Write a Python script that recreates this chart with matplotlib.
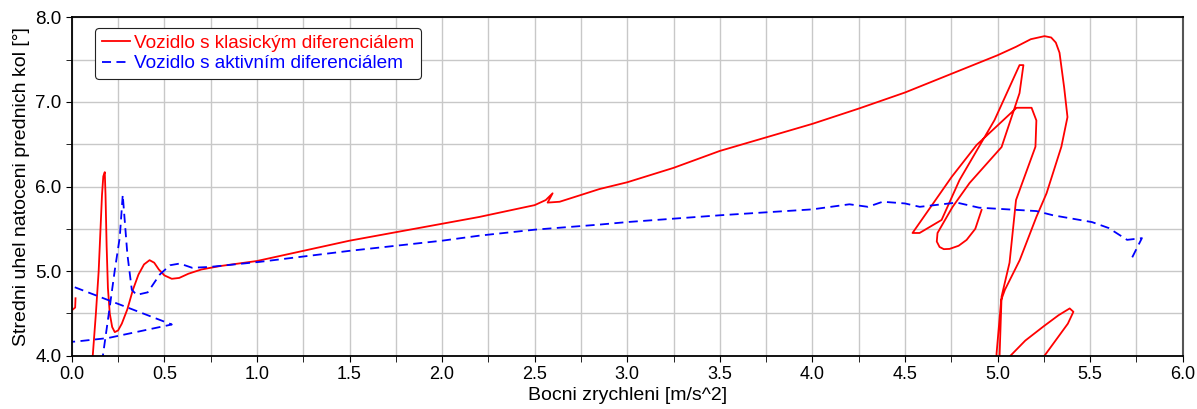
import matplotlib
matplotlib.use("Agg")
import matplotlib.pyplot as plt
from matplotlib.ticker import MultipleLocator

plt.rcParams['font.family'] = ['Liberation Sans', 'DejaVu Sans']

# vozidlo s klasickym diferencialem (red)
red_x = [0.02, 0.018, -0.05, -0.05, 0.105, 0.113, 0.13, 0.145, 0.155, 0.163, 0.17, 0.178, 0.182, 0.188,
         0.195, 0.205, 0.218, 0.232, 0.25, 0.27, 0.3, 0.33, 0.36, 0.39, 0.42, 0.445, 0.47, 0.5, 0.54,
         0.58, 0.63, 0.7, 0.8, 0.9, 1.0, 1.25, 1.5, 1.75, 2.0, 2.2, 2.35, 2.5, 2.56, 2.597, 2.57, 2.635,
         2.75, 2.85, 3.0, 3.25, 3.5, 3.75, 4.0, 4.25, 4.5, 4.75, 5.0, 5.1, 5.18,
         5.254, 5.29, 5.315, 5.335, 5.36, 5.378, 5.345, 5.265, 5.21, 5.12, 5.04, 5.02, 4.995, 4.99, 5.0,
         5.05, 5.065, 5.15, 5.25, 5.33, 5.39, 5.41, 5.38, 5.32, 5.25, 5.1, 5.0,
         5.011, 5.022, 5.065, 5.10, 5.205, 5.21, 5.184, 5.103, 4.887, 4.752, 4.541, 4.579, 4.698,
         4.795, 4.984, 5.119, 5.140, 5.119, 5.022, 4.849, 4.757, 4.676, 4.672, 4.687, 4.71, 4.741,
         4.79, 4.833, 4.88, 4.914]
red_y = [4.68, 4.57, 4.45, 3.5, 3.5, 4.0, 4.5, 5.0, 5.5, 5.9, 6.12, 6.17, 5.9, 5.3,
         4.8, 4.5, 4.34, 4.28, 4.30, 4.38, 4.55, 4.78, 4.96, 5.08, 5.13, 5.10, 5.02, 4.95, 4.91,
         4.92, 4.97, 5.02, 5.06, 5.09, 5.12, 5.24, 5.36, 5.46, 5.56, 5.64, 5.71, 5.78, 5.84, 5.92, 5.81, 5.82,
         5.90, 5.97, 6.05, 6.22, 6.42, 6.58, 6.74, 6.92, 7.11, 7.33, 7.55, 7.65, 7.74,
         7.776, 7.76, 7.70, 7.58, 7.17, 6.82, 6.47, 5.92, 5.64, 5.13, 4.78, 4.66, 4.03, 3.7, 3.6,
         3.8, 3.99, 4.18, 4.35, 4.48, 4.56, 4.52, 4.38, 4.20, 3.99, 3.6, 3.8,
         3.99, 4.70, 5.10, 5.84, 6.47, 6.78, 6.93, 6.93, 6.49, 6.112, 5.451, 5.451, 5.605,
         6.077, 6.785, 7.434, 7.434, 7.103, 6.466, 6.041, 5.758, 5.451, 5.35, 5.286, 5.26, 5.263,
         5.30, 5.369, 5.5, 5.723]

# vozidlo s aktivnim diferencialem (blue)
blue_x = [0.016, 0.54, 0.195, 0.027, -0.1, -0.1, 0.15, 0.167, 0.205, 0.232, 0.259, 0.275, 0.30, 0.324,
          0.35, 0.41, 0.475, 0.53, 0.583, 0.65, 0.745, 1.015, 1.5, 2.0, 2.203, 2.5, 2.85, 3.0, 3.5,
          4.0, 4.2, 4.3, 4.38, 4.5, 4.58, 4.78, 4.90, 5.21, 5.30, 5.51, 5.60, 5.70, 5.78, 5.72]
blue_y = [4.81, 4.37, 4.21, 4.17, 4.15, 3.5, 3.5, 3.99, 4.58, 5.01, 5.40, 5.90, 5.20, 4.78,
          4.72, 4.75, 4.96, 5.07, 5.09, 5.04, 5.05, 5.11, 5.24, 5.36, 5.42, 5.49, 5.55, 5.58, 5.66,
          5.73, 5.79, 5.76, 5.82, 5.80, 5.76, 5.81, 5.75, 5.71, 5.66, 5.58, 5.51, 5.37, 5.39, 5.13]

fig = plt.figure(figsize=(11.97, 4.09), dpi=100)
ax = fig.add_axes([0.060, 0.130, 0.928, 0.828])

ax.plot(red_x, red_y, color='red', lw=1.3, label='Vozidlo s klasickým diferenciálem')
ax.plot(blue_x, blue_y, color='blue', lw=1.3, ls=(0, (5, 3)), label='Vozidlo s aktivním diferenciálem')

ax.set_xlim(0, 6)
ax.set_ylim(4, 8)
ax.xaxis.set_major_locator(MultipleLocator(0.5))
ax.xaxis.set_minor_locator(MultipleLocator(0.25))
ax.yaxis.set_major_locator(MultipleLocator(1.0))
ax.yaxis.set_minor_locator(MultipleLocator(0.5))
ax.xaxis.set_major_formatter(plt.FormatStrFormatter('%.1f'))
ax.yaxis.set_major_formatter(plt.FormatStrFormatter('%.1f'))
ax.grid(True, which='both', color='#c8c8c8', lw=1)
ax.set_axisbelow(True)
ax.tick_params(which='both', direction='out', length=4)
ax.tick_params(axis='y', labelsize=13.5)
ax.tick_params(axis='x', labelsize=13)
for lab in ax.get_xticklabels():
    lab.set_family(['Liberation Sans Narrow', 'Liberation Sans'])

for s in ['left', 'bottom', 'top']:
    ax.spines[s].set_linewidth(1.3)
ax.spines['right'].set_color('#555555')
ax.spines['right'].set_linewidth(1.5)

ax.set_xlabel('Bocni zrychleni [m/s^2]', fontsize=14, labelpad=3)
ax.set_ylabel('Stredni uhel natoceni prednich kol [°]', fontsize=14, labelpad=4)

leg = ax.legend(loc='upper left', bbox_to_anchor=(0.021, 0.968), fontsize=13.7, handlelength=1.5,
                handletextpad=0.2, labelspacing=0.15, fancybox=True, framealpha=1,
                edgecolor='#222222', borderpad=0.35, borderaxespad=0)
leg.get_frame().set_linewidth(0.8)
for t, c in zip(leg.get_texts(), ['red', 'blue']):
    t.set_color(c)

fig.savefig('out.png', dpi=100)
